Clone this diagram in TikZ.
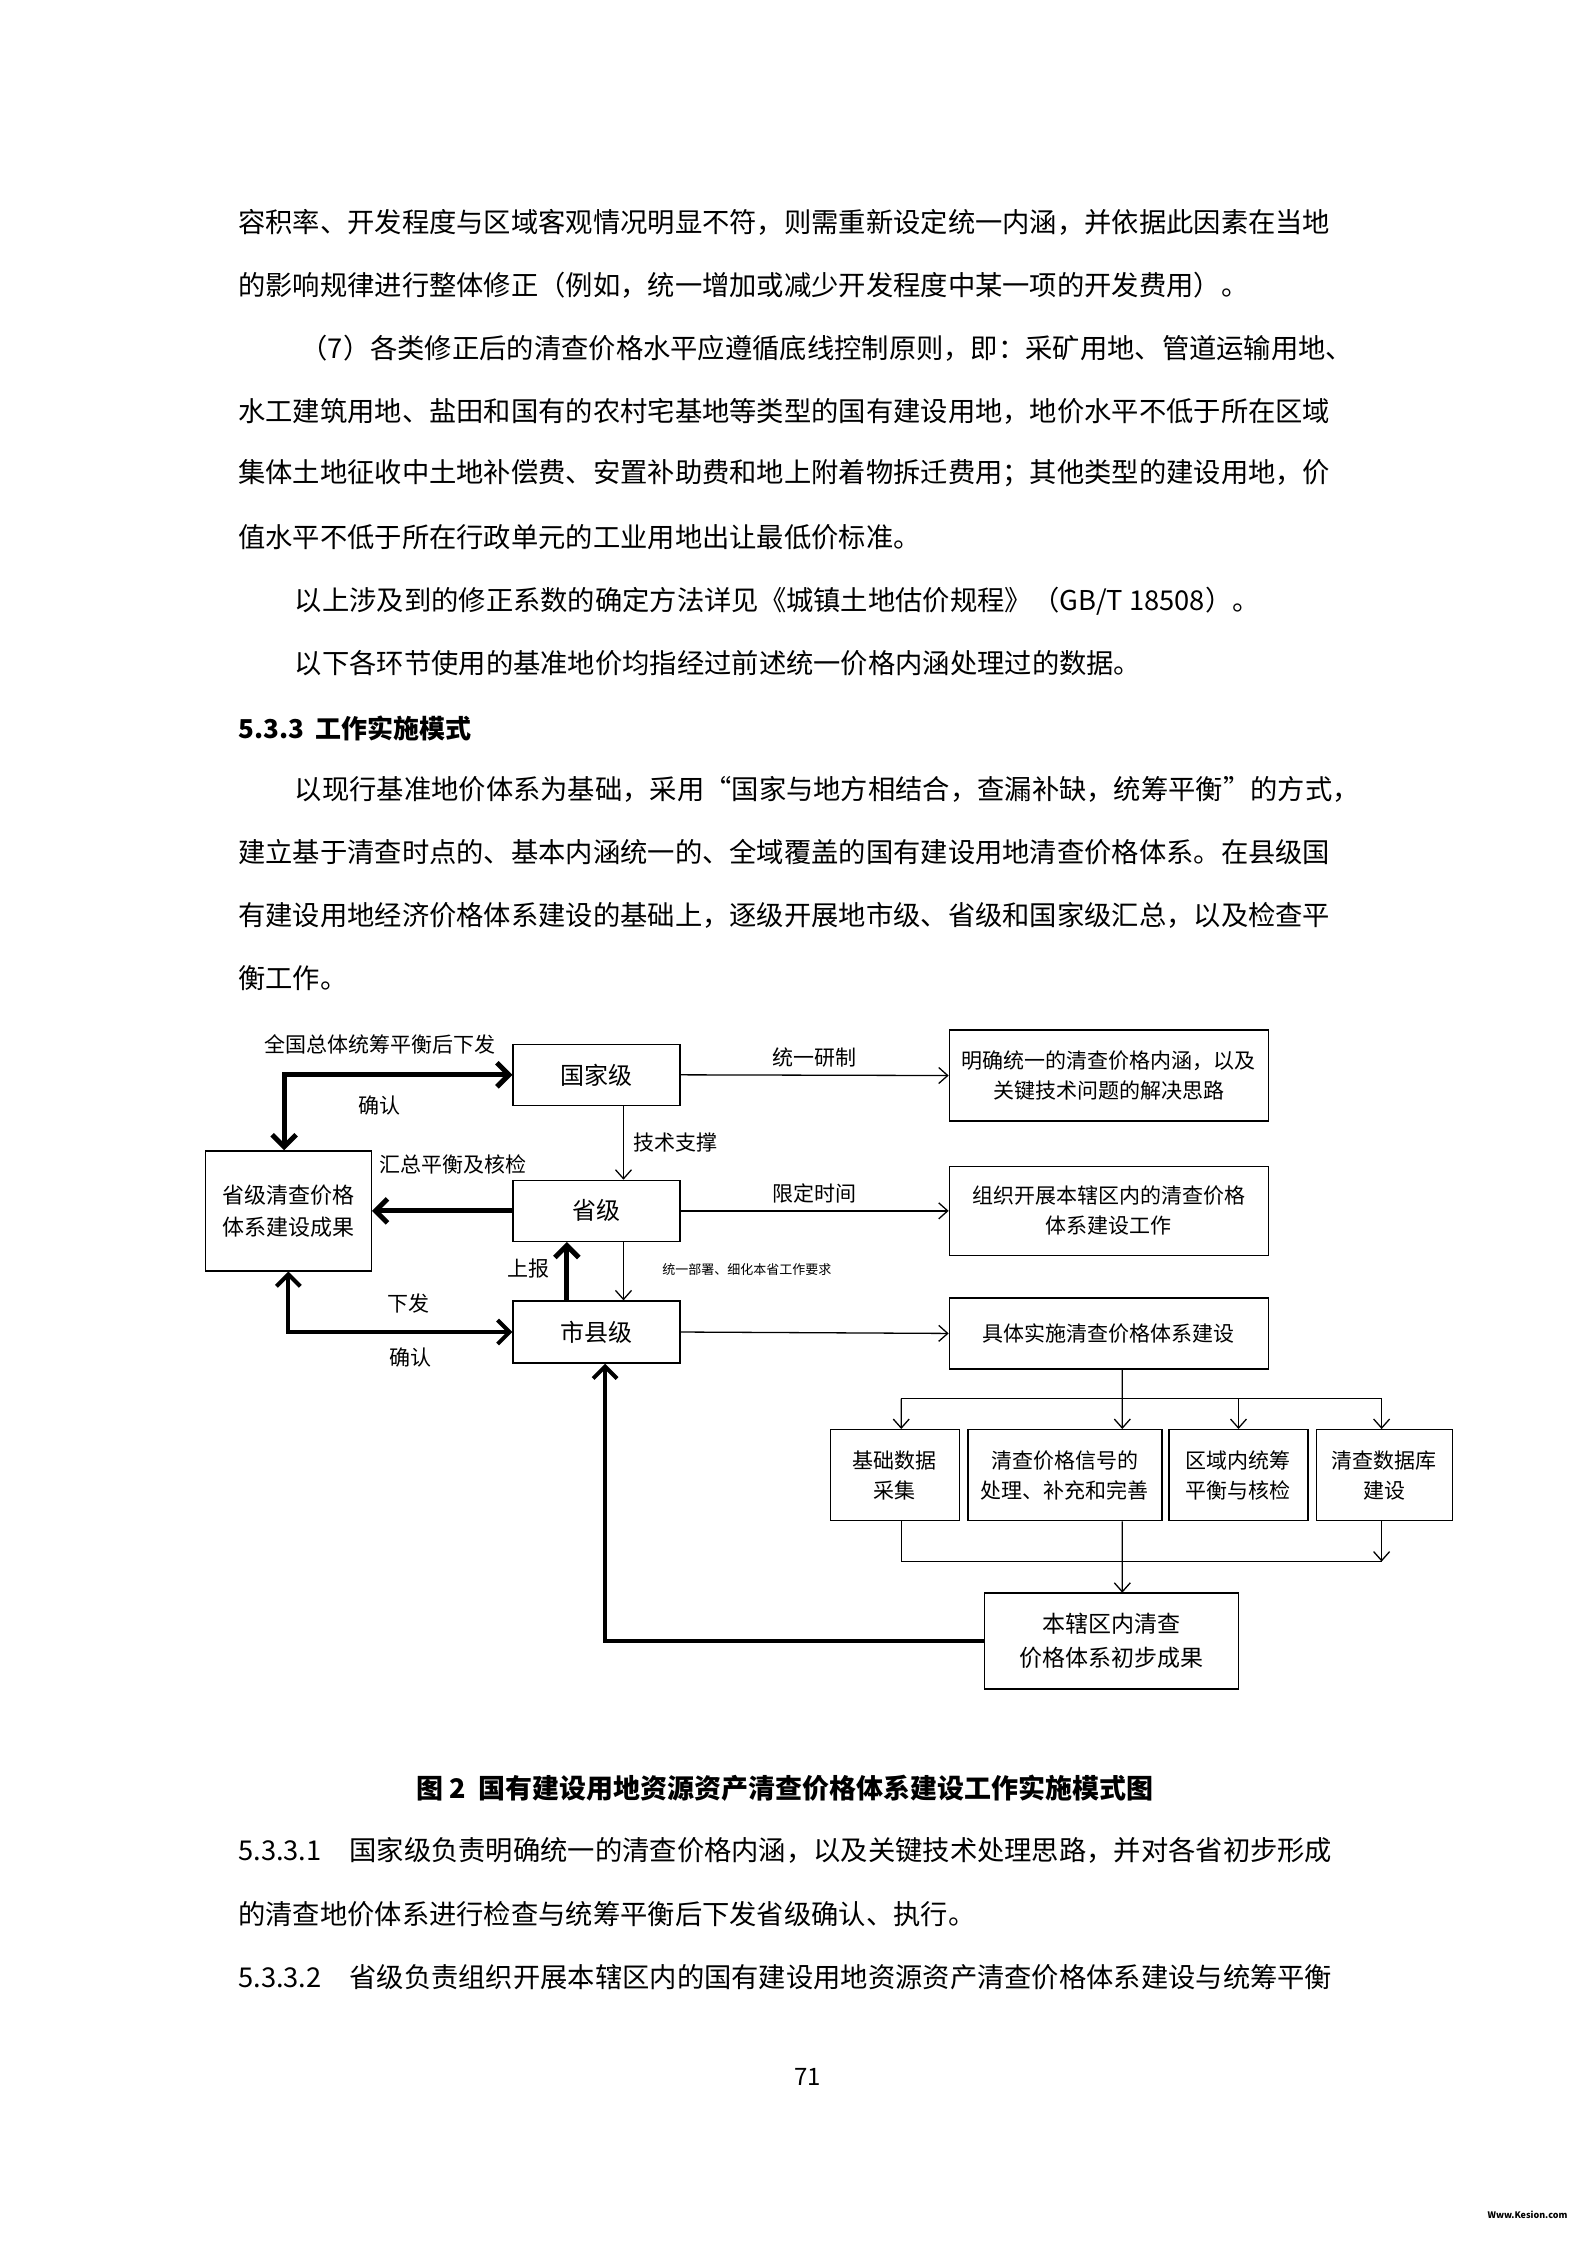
\documentclass[tikz,border=0pt]{standalone}
\usepackage{fontspec}
\setmainfont{Noto Sans CJK SC}
\usetikzlibrary{arrows.meta,calc}
\XeTeXlinebreaklocale "zh"
\XeTeXlinebreakskip=0pt plus 2pt
\tikzset{
 bx/.style={draw,line width=1.3pt,align=center,inner sep=0pt,font=\fontsize{21}{30}\selectfont},
 thin/.style={line width=1.3pt,-{Straight Barb[length=9pt,width=16pt]}},
 thick/.style={line width=5pt,-{Straight Barb[length=12pt,width=24pt,line width=5pt]}},
 lab/.style={font=\fontsize{21}{24}\selectfont},
 body/.style={anchor=west,inner sep=0pt,font=\fontsize{27.3}{30}\selectfont}
}
\newcommand{\fl}[1]{\makebox[1094pt][s]{#1}}
\begin{document}
\begin{tikzpicture}[x=1.417pt,y=-1.417pt]
\useasboundingbox[fill=white] (0,0) rectangle (1120,1584.3);
% body text
\node[body] (t1) at (168,157) {\fl{容积率、开发程度与区域客观情况明显不符，则需重新设定统一内涵，并依据此因素在当地}};
\node[body] (t2) at (168,201) {的影响规律进行整体修正（例如，统一增加或减少开发程度中某一项的开发费用）。};
\node[body] (t3) at (212,246) {\makebox[1032pt][s]{（7）各类修正后的清查价格水平应遵循底线控制原则，即：采矿用地、管道运输用地、}};
\node[body] (t4) at (168,290) {\fl{水工建筑用地、盐田和国有的农村宅基地等类型的国有建设用地，地价水平不低于所在区域}};
\node[body] (t5) at (168,334) {\fl{集体土地征收中土地补偿费、安置补助费和地上附着物拆迁费用；其他类型的建设用地，价}};
\node[body] (t6) at (168,379) {值水平不低于所在行政单元的工业用地出让最低价标准。};
\node[body] (t7) at (208,424) {以上涉及到的修正系数的确定方法详见《城镇土地估价规程》（GB/T 18508）。};
\node[body] (t8) at (208,468) {以下各环节使用的基准地价均指经过前述统一价格内涵处理过的数据。};
\node[body,font=\fontsize{26}{30}\selectfont\bfseries] (h1) at (168,514) {5.3.3\ \ 工作实施模式};
\node[body] (t9) at (208,557) {\makebox[1037pt][s]{以现行基准地价体系为基础，采用“国家与地方相结合，查漏补缺，统筹平衡”的方式，}};
\node[body] (t10) at (168,601) {\fl{建立基于清查时点的、基本内涵统一的、全域覆盖的国有建设用地清查价格体系。在县级国}};
\node[body] (t11) at (168,646) {\fl{有建设用地经济价格体系建设的基础上，逐级开展地市级、省级和国家级汇总，以及检查平}};
\node[body] (t12) at (168,690) {衡工作。};
\node[font=\fontsize{27}{30}\selectfont\bfseries] (cap) at (554,1262) {图 2\ \ 国有建设用地资源资产清查价格体系建设工作实施模式图};
\node[body] (t13) at (168,1306) {\fl{5.3.3.1\ \ 国家级负责明确统一的清查价格内涵，以及关键技术处理思路，并对各省初步形成}};
\node[body] (t14) at (168,1351) {的清查地价体系进行检查与统筹平衡后下发省级确认、执行。};
\node[body] (t15) at (168,1395) {\fl{5.3.3.2\ \ 省级负责组织开展本辖区内的国有建设用地资源资产清查价格体系建设与统筹平衡}};
\node[font=\fontsize{24}{26}\selectfont] (pn) at (570,1466) {71};
\node[font=\fontsize{9}{10}\selectfont\bfseries] (wm) at (1078,1563) {Www.Kesion.com};
% boxes
\node[bx,minimum width=167pt,minimum height=61pt,font=\fontsize{24}{30}\selectfont] (gj) at (421,758.5) {国家级};
\node[bx,minimum width=167pt,minimum height=61pt,font=\fontsize{24}{30}\selectfont] (sj) at (421,854.5) {省级};
\node[bx,minimum width=167pt,minimum height=62pt,font=\fontsize{24}{30}\selectfont] (sx) at (421,940) {市县级};
\node[bx,minimum width=166pt,minimum height=120pt,font=\fontsize{22}{32}\selectfont] (lb) at (203.5,854.5) {省级清查价格\\体系建设成果};
\node[bx,minimum width=319pt,minimum height=91pt] (r1) at (782.5,759) {明确统一的清查价格内涵，以及\\关键技术问题的解决思路};
\node[bx,minimum width=319pt,minimum height=89pt] (r2) at (782.5,854.5) {组织开展本辖区内的清查价格\\体系建设工作};
\node[bx,minimum width=319pt,minimum height=71pt] (r3) at (782.5,941) {具体实施清查价格体系建设};
\node[bx,minimum width=129pt,minimum height=91pt] (b1) at (631.5,1041) {基础数据\\采集};
\node[bx,minimum width=194pt,minimum height=91pt] (b2) at (751.5,1041) {清查价格信号的\\处理、补充和完善};
\node[bx,minimum width=139pt,minimum height=91pt] (b3) at (874,1041) {区域内统筹\\平衡与核检};
\node[bx,minimum width=136pt,minimum height=91pt] (b4) at (977,1041) {清查数据库\\建设};
\node[bx,minimum width=254pt,minimum height=96pt,font=\fontsize{23}{34}\selectfont] (bt) at (784.5,1158) {本辖区内清查\\价格体系初步成果};
% thin arrows right
\draw[thin] (gj.east) -- node[lab,above=4pt]{统一研制} (r1.west);
\draw[thin] (sj.east) -- node[lab,above=4pt]{限定时间} (r2.west);
\draw[thin] (sx.east) -- (r3.west);
% vertical thin
\draw[thin] ($(gj.south)+(19,0)$) -- node[lab,right=6pt,pos=0.5]{技术支撑} ($(sj.north)+(19,0)$);
\draw[thin] ($(sj.south)+(19,0)$) -- ($(sx.north)+(19,0)$);
\node[font=\fontsize{13}{14}\selectfont] (lbs) at (527,896) {统一部署、细化本省工作要求};
% thick arrows
\draw[thick,{Straight Barb[length=12pt,width=24pt,line width=5pt]}-{Straight Barb[length=12pt,width=24pt,line width=5pt]}] ($(lb.north)+(-3,0)$) |- (gj.west);
\node[lab] (l1) at (268,737) {全国总体统筹平衡后下发};
\node[lab] (l2) at (268,780) {确认};
\draw[thick] (sj.west) -- (lb.east);
\node[lab] (l3) at (320,822) {汇总平衡及核检};
\draw[thick] ($(sx.north)+(-21,0)$) -- ($(sj.south)+(-21,0)$);
\node[lab] (l4) at (373,895) {上报};
\draw[thick,line width=4pt,{Straight Barb[length=12pt,width=24pt,line width=4pt]}-{Straight Barb[length=12pt,width=24pt,line width=4pt]}] (lb.south) |- (sx.west);
\node[lab] (l5) at (288,920) {下发};
\node[lab] (l6) at (290,958) {确认};
\draw[thick,line width=4pt,-{Straight Barb[length=12pt,width=24pt,line width=4pt]}] (bt.west) -| ($(sx.south)+(6,0)$);
% tree
\coordinate (top) at (792,987);
\coordinate (ba) at (636,987);
\coordinate (bb) at (975,987);
\coordinate (ca) at (636,1102);
\coordinate (cb) at (975,1102);
\coordinate (btn) at (792,1124);
\draw[line width=1.3pt] ($(r3.south)+(9.5,0)$) -- (top);
\draw[line width=1.3pt] (ba) -- (bb);
\draw[thin] (ba) -- ($(b1.north)+(4.5,0)$);
\draw[thin] (top) -- ($(b2.north)+(40.5,0)$);
\draw[thin] (874,987) -- (b3.north);
\draw[thin] (bb) -- ($(b4.north)+(-2,0)$);
\draw[line width=1.3pt] ($(b1.south)+(4.5,0)$) |- (ca) -- (cb);
\draw[thin] ($(b4.south)+(-2,0)$) -- (cb);
\draw[thin] ($(b2.south)+(40.5,0)$) -- (btn);
\end{tikzpicture}
\end{document}
